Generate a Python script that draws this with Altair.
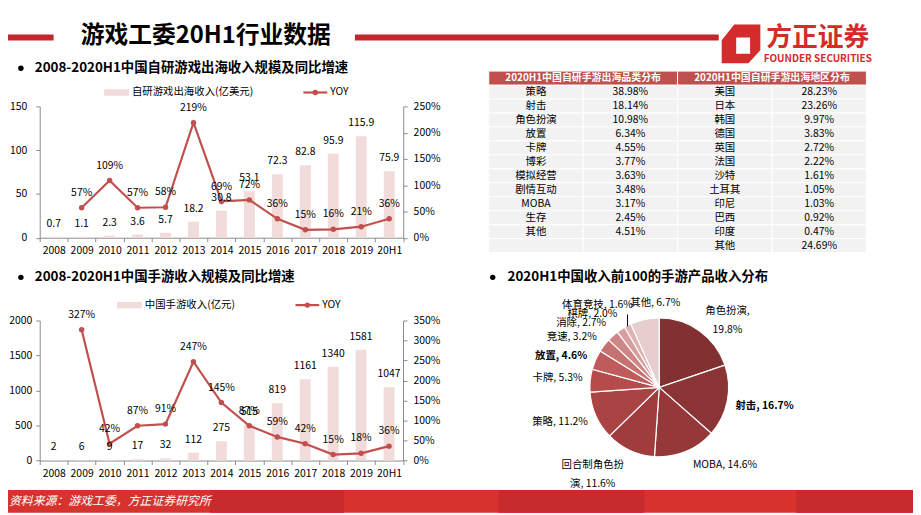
import math
import altair as alt
import pandas as pd

# ---------------- data ----------------
years = ["2008", "2009", "2010", "2011", "2012", "2013", "2014",
         "2015", "2016", "2017", "2018", "2019", "20H1"]
overseas_revenue = [0.7, 1.1, 2.3, 3.6, 5.7, 18.2, 30.8, 53.1, 72.3, 82.8, 95.9, 115.9, 75.9]
overseas_yoy = [None, 57, 109, 57, 58, 219, 69, 72, 36, 15, 16, 21, 36]
mobile_revenue = [2, 6, 9, 17, 32, 112, 275, 515, 819, 1161, 1340, 1581, 1047]
mobile_yoy = [None, 327, 42, 87, 91, 247, 145, 87, 59, 42, 15, 18, 36]

genre_names = ["策略", "射击", "角色扮演", "放置", "卡牌", "博彩", "模拟经营",
               "剧情互动", "MOBA", "生存", "其他"]
genre_shares = [38.98, 18.14, 10.98, 6.34, 4.55, 3.77, 3.63, 3.48, 3.17, 2.45, 4.51]
region_names = ["美国", "日本", "韩国", "德国", "英国", "法国", "沙特", "土耳其",
                "印尼", "巴西", "印度", "其他"]
region_shares = [28.23, 23.26, 9.97, 3.83, 2.72, 2.22, 1.61, 1.05, 1.03, 0.92, 0.47, 24.69]
table_headers = ["2020H1中国自研手游出海品类分布", "2020H1中国自研手游出海地区分布"]

pie_names = ["角色扮演", "射击", "MOBA", "回合制角色扮演", "策略", "卡牌", "放置",
             "竞速", "消除", "棋牌", "体育竞技", "其他"]
pie_shares = [19.8, 16.7, 14.6, 11.6, 11.2, 5.3, 4.6, 3.2, 2.7, 2.0, 1.6, 6.7]

# ---------------- styles / layout ----------------
FONT = "Noto Sans CJK SC"
LINE_RED = "#c0504d"
BAR_PINK = "#f2dcdb"
AXIS_GREY = "#8c8c8c"
BRAND_RED = "#d42b2b"
pie_colors = ["#813132", "#8b3435", "#953839", "#9f3d3d", "#aa4343", "#b54b4b",
              "#bf5b5b", "#c77272", "#ce8787", "#d69e9e", "#ddb3b3", "#e7cdcd"]
pie_bold = ["射击", "放置"]
# label placement (angle shift from slice middle, radius)
pie_label_shift = [6.3, -1.1, -17.8, 15.8, 4.9, -0.6, -5.5, -7.3, -8.6, -8.9, -9.8, 9.4]
pie_label_radius = [103, 108, 103, 103, 106, 103, 104, 102, 102, 100, 104, 85]

W, H = 913, 507      # drawing area (page has an 8px margin)
OX, OY = 8, 8


def px(v):
    return v - OX


def py(v):
    return v - OY


one = pd.DataFrame({"k": [0]})


def text_at(s, x, y, size=10.5, weight="normal", color="#000000", align="left",
            style="normal", baseline="middle"):
    return alt.Chart(one).mark_text(
        text=s, fontSize=size, fontWeight=weight, color=color, align=align,
        baseline=baseline, font=FONT, fontStyle=style
    ).encode(x=alt.value(px(x)), y=alt.value(py(y)))


def rect_at(x0, y0, x1, y1, color):
    return alt.Chart(one).mark_rect(color=color).encode(
        x=alt.value(px(x0)), x2=alt.value(px(x1)),
        y=alt.value(py(y0)), y2=alt.value(py(y1)))


def dot_at(x, y, size, color):
    return alt.Chart(one).mark_circle(size=size, color=color, opacity=1).encode(
        x=alt.value(px(x)), y=alt.value(py(y)))


def axis(orient, offset, **kw):
    base = dict(orient=orient, offset=offset, title=None, grid=False,
                labelFont=FONT, labelFontSize=10.5, labelColor="#000000",
                domainColor=AXIS_GREY, tickColor=AXIS_GREY, tickSize=4,
                domainWidth=1, tickWidth=1, labelOverlap=False)
    base.update(kw)
    return alt.Axis(**base)


def combo(revenue, yoy, rev_fmt, x0, x1, ybot, ytop, lmax, lstep, rmax, lpad):
    df = pd.DataFrame({"year": years, "rev": revenue,
                       "yoy": [None if v is None else v / 100 for v in yoy]})
    df["rev_lbl"] = [rev_fmt(v) for v in revenue]
    df["yoy_lbl"] = ["" if v is None else f"{v}%" for v in yoy]
    ldf = df.dropna(subset=["yoy"])
    xr = [px(x0), px(x1)]
    yr = [py(ybot), py(ytop)]
    band = alt.Scale(type="band", domain=years, range=xr, paddingInner=0, paddingOuter=0)
    point = alt.Scale(type="point", domain=years, range=xr, padding=0.5)
    lscale = alt.Scale(domain=[0, lmax], range=yr, nice=False)
    rscale = alt.Scale(domain=[0, rmax], range=yr, nice=False)
    rvals = [k * 0.5 for k in range(int(rmax / 0.5) + 1)]

    bars = alt.Chart(df).mark_bar(size=11, color=BAR_PINK).encode(
        x=alt.X("year:O", scale=band,
                axis=axis("bottom", py(ybot) - H, tickBand="extent", labelPadding=4,
                          labelAngle=0)),
        y=alt.Y("rev:Q", scale=lscale,
                axis=axis("left", -px(x0), values=list(range(0, lmax + 1, lstep)),
                          format="d", labelPadding=lpad)),
    )
    line = alt.Chart(ldf).mark_line(color=LINE_RED, strokeWidth=2.2).encode(
        x=alt.X("year:O", scale=point, axis=None),
        y=alt.Y("yoy:Q", scale=rscale,
                axis=axis("right", px(x1) - W, values=rvals, format=".0%", labelPadding=6)),
    )
    pts = alt.Chart(ldf).mark_point(filled=True, size=30, color=LINE_RED, opacity=1).encode(
        x=alt.X("year:O", scale=point, axis=None),
        y=alt.Y("yoy:Q", scale=rscale, axis=None),
    )
    bar_lbl = alt.Chart(df).mark_text(dy=-13, fontSize=10.5, font=FONT, color="#000000").encode(
        x=alt.X("year:O", scale=point, axis=None),
        y=alt.Y("rev:Q", scale=lscale, axis=None),
        text="rev_lbl:N",
    )
    yoy_lbl = alt.Chart(ldf).mark_text(dy=-15, fontSize=10.5, font=FONT, color="#000000").encode(
        x=alt.X("year:O", scale=point, axis=None),
        y=alt.Y("yoy:Q", scale=rscale, axis=None),
        text="yoy_lbl:N",
    )
    return [bars, line, pts, bar_lbl, yoy_lbl]


def legend(sw_x, y, label, line_x):
    return [
        rect_at(sw_x, y - 3.3, sw_x + 25, y + 3.3, BAR_PINK),
        text_at(label, sw_x + 28, y),
        rect_at(line_x, y - 1.1, line_x + 24, y + 1.1, LINE_RED),
        dot_at(line_x + 12, y, 30, LINE_RED),
        text_at("YOY", line_x + 27, y),
    ]


layers = []

# ---------------- header ----------------
layers += [
    rect_at(0, 32.5, 54, 38.5, "#c0282d"),
    rect_at(358, 32.5, 725, 38.5, "#c0282d"),
    text_at("游戏工委20H1行业数据", 207.5, 34, size=24, weight="bold", align="center"),
    alt.Chart(one).mark_point(
        shape="M-0.35,-1L1,-1L1,0.33L0.38,1L-1,1L-1,-0.19Z"
              "M-0.25,-0.33L-0.25,0.51L0.47,0.51L0.47,-0.33Z",
        filled=True, size=1521, color=BRAND_RED, opacity=1, strokeWidth=0
    ).encode(x=alt.value(px(747.5)), y=alt.value(py(42))),
    text_at("方正证券", 825, 36.5, size=26, weight="bold", color=BRAND_RED, align="center"),
    text_at("FOUNDER SECURITIES", 825, 57.5, size=10, weight="bold", color=BRAND_RED,
            align="center"),
]

# ---------------- footer ----------------
layers += [
    rect_at(0, 492, 921, 515, "#d6332f"),
    rect_at(212, 492, 347, 515, "#c72b2b"),
    rect_at(503, 492, 650, 515, "#c72b2b"),
    rect_at(803, 492, 921, 515, "#c72b2b"),
    text_at("资料来源：游戏工委，方正证券研究所", 9, 503.5, size=12, color="#ffffff",
            style="italic"),
]

# ---------------- chart 1 ----------------
layers += [
    dot_at(21, 66.5, 30, "#000000"),
    text_at("2008-2020H1中国自研游戏出海收入规模及同比增速", 35, 66.5, size=13.5, weight="bold"),
]
layers += legend(105, 91, "自研游戏出海收入(亿美元)", 306)
layers += combo(overseas_revenue, overseas_yoy, lambda v: f"{v:.1f}",
                40, 406.7, 237.5, 105, 150, 50, 2.5, 9)

# ---------------- chart 2 ----------------
layers += [
    dot_at(21, 277.5, 30, "#000000"),
    text_at("2008-2020H1中国手游收入规模及同比增速", 35, 277.5, size=13.5, weight="bold"),
]
layers += legend(118, 305.5, "中国手游收入(亿元)", 298)
layers += combo(mobile_revenue, mobile_yoy, lambda v: f"{v}",
                40, 406.5, 462.3, 321, 2000, 500, 3.5, 4)

# ---------------- tables ----------------
rows = [str(i) for i in range(12)]
ydom = ["h"] + rows
cols = ["c0", "c1", "c2", "c3"]
y_band = alt.Scale(type="band", domain=ydom, range=[py(69.4), py(252.5)],
                   paddingInner=0, paddingOuter=0)
y_pt = alt.Scale(type="point", domain=ydom, range=[py(69.4), py(252.5)], padding=0.5)
x_band = alt.Scale(type="band", domain=cols, range=[px(493), px(874)],
                   paddingInner=0, paddingOuter=0)
x_pt = alt.Scale(type="point", domain=cols, range=[px(493), px(874)], padding=0.5)
hx_band = alt.Scale(type="band", domain=["L", "R"], range=[px(493), px(874)],
                    paddingInner=0, paddingOuter=0)
hx_pt = alt.Scale(type="point", domain=["L", "R"], range=[px(493), px(874)], padding=0.5)

cells = []
for r in range(12):
    gn = genre_names[r] if r < len(genre_names) else ""
    gs = f"{genre_shares[r]:.2f}%" if r < len(genre_shares) else ""
    vals = [gn, gs, region_names[r], f"{region_shares[r]:.2f}%"]
    for c in range(4):
        cells.append({"row": str(r), "col": cols[c], "txt": vals[c]})
cell_df = pd.DataFrame(cells)
hdr_df = pd.DataFrame({"grp": ["L", "R"], "row": ["h", "h"], "txt": table_headers})

layers += [
    alt.Chart(cell_df).mark_rect(fill="#f2f2f2", stroke="#ffffff", strokeWidth=1).encode(
        x=alt.X("col:N", scale=x_band, axis=None),
        y=alt.Y("row:N", scale=y_band, axis=None)),
    alt.Chart(hdr_df).mark_rect(fill="#c0504d", stroke="#ffffff", strokeWidth=1).encode(
        x=alt.X("grp:N", scale=hx_band, axis=None),
        y=alt.Y("row:N", scale=y_band, axis=None)),
    alt.Chart(hdr_df).mark_text(font=FONT, fontSize=10, fontWeight="bold", color="#ffffff").encode(
        x=alt.X("grp:N", scale=hx_pt, axis=None),
        y=alt.Y("row:N", scale=y_pt, axis=None),
        text="txt:N"),
    alt.Chart(cell_df).mark_text(font=FONT, fontSize=10.5, color="#000000").encode(
        x=alt.X("col:N", scale=x_pt, axis=None),
        y=alt.Y("row:N", scale=y_pt, axis=None),
        text="txt:N"),
]

# ---------------- pie ----------------
CX, CY, R = 665, 388.5, 70
pie_df = pd.DataFrame({"name": pie_names, "share": pie_shares, "idx": range(len(pie_names))})
labels, lx, ly = [], [], []
cum = 0.0
for i, (n, s) in enumerate(zip(pie_names, pie_shares)):
    mid = (cum + s / 2) * 3.6
    cum += s
    a = math.radians(mid + pie_label_shift[i])
    lx.append(px(CX) + pie_label_radius[i] * math.sin(a))
    ly.append(py(CY) - pie_label_radius[i] * math.cos(a))
    if n == "角色扮演":
        labels.append(f"{n},\n{s}%")
    elif n == "回合制角色扮演":
        labels.append(f"{n[:-1]}\n{n[-1]}, {s}%")
    else:
        labels.append(f"{n}, {s}%")
pie_df["label"] = labels
pie_df["lx"] = lx
pie_df["ly"] = ly
pie_df["bold"] = [n in pie_bold for n in pie_names]

layers += [
    dot_at(497, 277.5, 30, "#000000"),
    text_at("2020H1中国收入前100的手游产品收入分布", 512, 277.5, size=13.5, weight="bold"),
    alt.Chart(pie_df).mark_arc(radius=R, stroke="#ffffff", strokeWidth=1.2).encode(
        theta=alt.Theta("share:Q", stack=True),
        color=alt.Color("name:N", scale=alt.Scale(domain=pie_names, range=pie_colors),
                        legend=None),
        order=alt.Order("idx:Q"),
        x=alt.value(px(CX)), y=alt.value(py(CY)),
    ),
    alt.Chart(pie_df).transform_filter("!datum.bold").mark_text(
        font=FONT, fontSize=10.5, color="#000000", lineBreak="\n", lineHeight=19
    ).encode(
        x=alt.X("lx:Q", scale=None, axis=None),
        y=alt.Y("ly:Q", scale=None, axis=None),
        text="label:N"),
    alt.Chart(pie_df).transform_filter("datum.bold").mark_text(
        font=FONT, fontSize=10.5, fontWeight="bold", color="#000000"
    ).encode(
        x=alt.X("lx:Q", scale=None, axis=None),
        y=alt.Y("ly:Q", scale=None, axis=None),
        text="label:N"),
    alt.Chart(one).mark_rule(color="#000000", strokeWidth=1).encode(
        x=alt.value(px(633)), y=alt.value(py(315)), y2=alt.value(py(327))),
]

chart = alt.layer(*layers).resolve_scale(
    x="independent", y="independent", theta="independent", color="independent"
).resolve_axis(
    x="independent", y="independent"
).properties(
    width=W, height=H, autosize=alt.AutoSizeParams(type="none"), padding=0,
    background="#ffffff"
).configure_view(stroke=None)

chart.save("out.html", embed_options={"renderer": "svg", "actions": False})
